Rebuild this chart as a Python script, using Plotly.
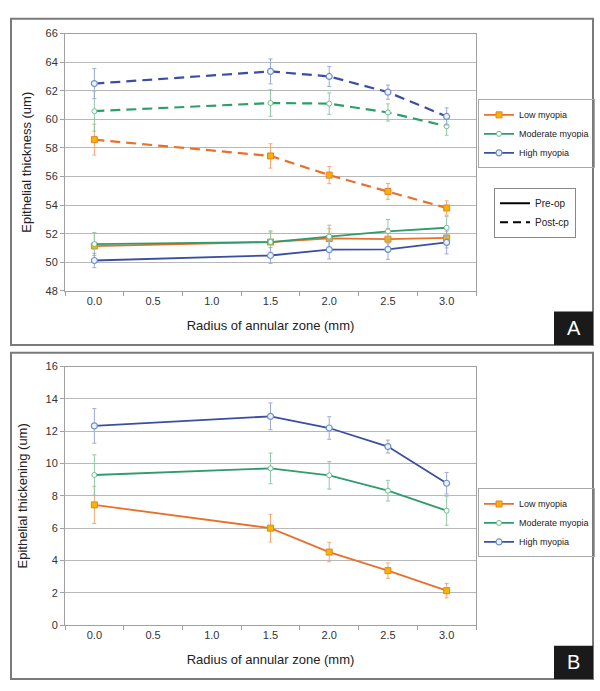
import plotly.graph_objects as go

# ---------------- data ----------------
radius = [0.0, 1.5, 2.0, 2.5, 3.0]
x_tick_vals = [0.0, 0.5, 1.0, 1.5, 2.0, 2.5, 3.0]
x_tick_text = ["0.0", "0.5", "1.0", "1.5", "2.0", "2.5", "3.0"]
groups = ["Low myopia", "Moderate myopia", "High myopia"]

# Panel A - epithelial thickness (um)
low_pre = [51.14, 51.42, 51.67, 51.62, 51.71]
low_pre_err = [0.9, 0.7, 0.7, 0.75, 0.7]
mod_pre = [51.28, 51.42, 51.80, 52.17, 52.42]
mod_pre_err = [0.8, 0.78, 0.8, 0.83, 0.8]
high_pre = [50.13, 50.48, 50.89, 50.91, 51.39]
high_pre_err = [0.5, 0.55, 0.65, 0.7, 0.8]

low_post = [58.58, 57.44, 56.10, 54.96, 53.80]
low_post_err = [1.08, 0.85, 0.6, 0.55, 0.5]
mod_post = [60.57, 61.14, 61.10, 60.48, 59.52]
mod_post_err = [1.4, 0.93, 0.75, 0.6, 0.63]
high_post = [62.50, 63.35, 63.00, 61.90, 60.20]
high_post_err = [1.05, 0.87, 0.7, 0.5, 0.6]

# Panel B - epithelial thickening (um)
low_thick = [7.44, 6.00, 4.52, 3.37, 2.13]
low_thick_err = [1.15, 0.86, 0.6, 0.48, 0.45]
mod_thick = [9.29, 9.70, 9.27, 8.32, 7.08]
mod_thick_err = [1.25, 0.95, 0.85, 0.64, 0.9]
high_thick = [12.33, 12.92, 12.20, 11.05, 8.78]
high_thick_err = [1.07, 0.83, 0.7, 0.4, 0.67]

# ---------------- styles ----------------
W, H = 600, 691
FONT = "Liberation Sans, Arial, sans-serif"
DASH = "10px,6px"
line_col = {"Low myopia": "#E8702A", "Moderate myopia": "#2E9C6C", "High myopia": "#3A4EA2"}
err_col = {"Low myopia": "#F2A878", "Moderate myopia": "#8FC9AA", "High myopia": "#9DAAD6"}
marker = {
    "Low myopia": dict(symbol="square", size=6, color="#F7B400", line=dict(color="#E8802A", width=1)),
    "Moderate myopia": dict(symbol="circle", size=5, color="white", line=dict(color="#6CBF8F", width=1)),
    "High myopia": dict(symbol="circle", size=6, color="#EEF2FB", line=dict(color="#6E8ED2", width=1.2)),
}

fig = go.Figure()

pre = [low_pre, mod_pre, high_pre]
pre_err = [low_pre_err, mod_pre_err, high_pre_err]
post = [low_post, mod_post, high_post]
post_err = [low_post_err, mod_post_err, high_post_err]
thick = [low_thick, mod_thick, high_thick]
thick_err = [low_thick_err, mod_thick_err, high_thick_err]

for g, yv, ev in zip(groups, post, post_err):
    fig.add_trace(go.Scatter(
        x=radius, y=yv, mode="lines+markers", name=g, showlegend=False,
        line=dict(color=line_col[g], width=2.2, dash=DASH), marker=marker[g],
        error_y=dict(type="data", array=ev, color=err_col[g], thickness=1, width=2),
        xaxis="x", yaxis="y"))

for g, yv, ev in zip(groups, pre, pre_err):
    fig.add_trace(go.Scatter(
        x=radius, y=yv, mode="lines+markers", name=g, legend="legend",
        line=dict(color=line_col[g], width=1.8), marker=marker[g],
        error_y=dict(type="data", array=ev, color=err_col[g], thickness=1, width=2),
        xaxis="x", yaxis="y"))

# Pre-op / Post-op key
for nm, dash in [("Pre-op", "solid"), ("Post-cp", "8px,5px")]:
    fig.add_trace(go.Scatter(
        x=[None], y=[None], mode="lines", name=nm, legend="legend2",
        line=dict(color="black", width=2, dash=dash), xaxis="x", yaxis="y"))

for g, yv, ev in zip(groups, thick, thick_err):
    fig.add_trace(go.Scatter(
        x=radius, y=yv, mode="lines+markers", name=g, legend="legend3",
        line=dict(color=line_col[g], width=1.8), marker=marker[g],
        error_y=dict(type="data", array=ev, color=err_col[g], thickness=1, width=2),
        xaxis="x2", yaxis="y2"))

# ---------------- layout ----------------
def px_x(p):
    return p / W

def px_y(p):
    return 1 - p / H

xaxis_common = dict(
    range=[-0.25, 3.25], tickmode="array", tickvals=x_tick_vals, ticktext=x_tick_text,
    ticks="", showgrid=False, zeroline=False, showline=True, linecolor="#A0A0A0",
    linewidth=1, mirror=True,
    minor=dict(tickmode="array", tickvals=[-0.25, 0.25, 0.75, 1.25, 1.75, 2.25, 2.75, 3.25],
               ticks="outside", ticklen=4, tickcolor="#A0A0A0", showgrid=False),
    tickfont=dict(size=11, color="#333", family=FONT),
    title=dict(text="Radius of annular zone (mm)", font=dict(size=13, color="#222", family=FONT), standoff=14),
    fixedrange=True,
)
yaxis_common = dict(
    showgrid=True, gridcolor="#B8B8B8", gridwidth=1, zeroline=False,
    showline=True, linecolor="#A0A0A0", linewidth=1, mirror=True,
    ticks="outside", ticklen=4, tickcolor="#A0A0A0",
    tickfont=dict(size=11, color="#333", family=FONT), fixedrange=True,
)

legend_common = dict(xanchor="left", yanchor="top", bgcolor="rgba(255,255,255,0)",
                     font=dict(size=9, color="#222", family=FONT),
                     itemwidth=30, tracegroupgap=0)

fig.update_layout(
    width=W, height=H, margin=dict(l=0, r=0, t=0, b=0),
    paper_bgcolor="white", plot_bgcolor="white",
    font=dict(family=FONT, color="#222"),
    xaxis=dict(domain=[px_x(65), px_x(476)], anchor="y", **xaxis_common),
    yaxis=dict(domain=[px_y(290), px_y(28)], anchor="x", range=[48, 66], dtick=2,
               title=dict(text="Epithelial thickness (um)", font=dict(size=13, color="#222", family=FONT), standoff=10),
               **yaxis_common),
    xaxis2=dict(domain=[px_x(65), px_x(476)], anchor="y2", **xaxis_common),
    yaxis2=dict(domain=[px_y(630), px_y(367)], anchor="x2", range=[0, 16], dtick=2,
                title=dict(text="Epithelial thickening (um)", font=dict(size=13, color="#222", family=FONT), standoff=14),
                **yaxis_common),
    legend=dict(x=px_x(478), y=px_y(95), bordercolor="#A8A8A8", borderwidth=1, **legend_common),
    legend2=dict(x=px_x(494), y=px_y(185), bordercolor="#888", borderwidth=1,
                 **{**legend_common, "font": dict(size=10, color="#222", family=FONT)}),
    legend3=dict(x=px_x(478), y=px_y(491), bordercolor="#A8A8A8", borderwidth=1, **legend_common),
    showlegend=True,
)

# outer panel frames and letter tags
for (top, bot, letter) in [(13, 345, "A"), (353, 685, "B")]:
    fig.add_shape(type="rect", xref="paper", yref="paper",
                  x0=px_x(11), x1=px_x(593), y0=px_y(bot), y1=px_y(top),
                  line=dict(color="#7A7A7A", width=2), fillcolor="rgba(0,0,0,0)", layer="below")
    fig.add_shape(type="rect", xref="paper", yref="paper",
                  x0=px_x(554), x1=px_x(593), y0=px_y(bot), y1=px_y(bot - 34),
                  line=dict(color="#1A1A1A", width=0), fillcolor="#1A1A1A")
    fig.add_annotation(xref="paper", yref="paper", x=px_x(573.5), y=px_y(bot - 17),
                       xanchor="center", yanchor="middle",
                       text=letter, showarrow=False,
                       font=dict(size=20, color="white", family=FONT))

fig.write_html("out.html",
               config={"displayModeBar": False},
               post_script="document.body.style.margin='0';document.body.style.overflow='hidden';")
